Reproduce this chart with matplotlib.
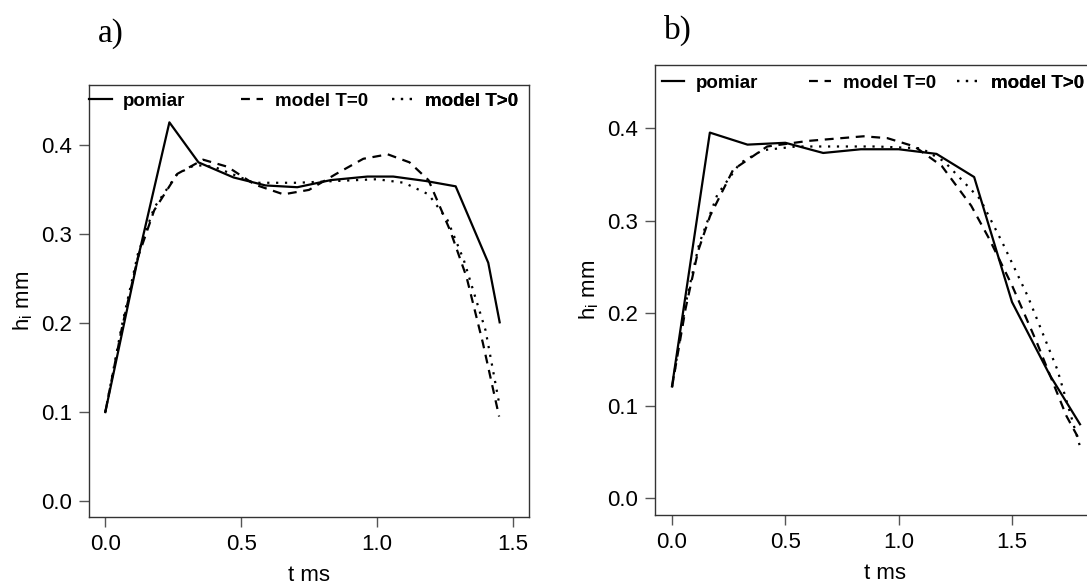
import matplotlib
matplotlib.use("Agg")
import matplotlib.pyplot as plt
from matplotlib.lines import Line2D

plt.rcParams['font.family'] = ['Liberation Sans', 'DejaVu Sans']

# panel a) data
a_t_meas = [0, 0.118, 0.236, 0.343, 0.472, 0.59, 0.707, 0.83, 0.965, 1.06, 1.18, 1.29, 1.41, 1.452]
a_h_meas = [0.100, 0.270, 0.426, 0.381, 0.364, 0.355, 0.353, 0.361, 0.365, 0.365, 0.360, 0.354, 0.268, 0.201]

a_t_m0 = [0, 0.06, 0.12, 0.18, 0.265, 0.36, 0.45, 0.55, 0.656, 0.75, 0.85, 0.95, 1.04, 1.12, 1.19, 1.27, 1.33, 1.39, 1.45]
a_h_m0 = [0.100, 0.193, 0.274, 0.327, 0.368, 0.384, 0.376, 0.356, 0.345, 0.350, 0.368, 0.385, 0.390, 0.381, 0.361, 0.304, 0.252, 0.178, 0.095]

a_t_m1 = [0, 0.06, 0.12, 0.18, 0.265, 0.33, 0.40, 0.547, 0.707, 0.85, 1.0, 1.1, 1.19, 1.26, 1.32, 1.40, 1.45]
a_h_m1 = [0.100, 0.196, 0.278, 0.330, 0.368, 0.378, 0.376, 0.358, 0.358, 0.360, 0.362, 0.358, 0.345, 0.316, 0.271, 0.192, 0.110]

# panel b) data
b_t_meas = [0, 0.167, 0.333, 0.5, 0.667, 0.833, 1.0, 1.167, 1.333, 1.5, 1.667, 1.8]
b_h_meas = [0.121, 0.395, 0.382, 0.384, 0.373, 0.377, 0.377, 0.372, 0.347, 0.212, 0.133, 0.080]

b_t_m0 = [0, 0.06, 0.115, 0.168, 0.27, 0.42, 0.6, 0.845, 0.95, 1.07, 1.19, 1.32, 1.40, 1.50, 1.61, 1.74, 1.80]
b_h_m0 = [0.120, 0.205, 0.267, 0.305, 0.355, 0.380, 0.386, 0.391, 0.389, 0.380, 0.359, 0.316, 0.280, 0.230, 0.168, 0.089, 0.062]

b_t_m1 = [0, 0.06, 0.12, 0.2, 0.3, 0.4, 0.55, 0.7, 0.9, 1.1, 1.2, 1.36, 1.46, 1.57, 1.70, 1.80]
b_h_m1 = [0.120, 0.210, 0.275, 0.328, 0.362, 0.376, 0.380, 0.380, 0.380, 0.378, 0.364, 0.323, 0.275, 0.218, 0.139, 0.056]

labels = ["pomiar", "model T=0", "model T>0"]
x_ticks = [0.0, 0.5, 1.0, 1.5]
y_ticks = [0.0, 0.1, 0.2, 0.3, 0.4]

styles = ['-', (0, (4, 3)), (0, (1, 3))]
lw = 1.6

fig = plt.figure(figsize=(10.87, 5.87), dpi=100)
ax_a = fig.add_axes([89/1087, 70/587, 440/1087, 432/587])
ax_b = fig.add_axes([655/1087, 72/587, 459/1087, 450/587])


def panel(ax, series, xlim, leg_x, leg_y):
    for (t, h), ls in zip(series, styles):
        ax.plot(t, h, color='black', linestyle=ls, linewidth=lw)
    ax.set_xlim(*xlim)
    ax.set_ylim(-0.018, 0.468)
    ax.set_xticks(x_ticks)
    ax.set_xticklabels(["%.1f" % v for v in x_ticks])
    ax.set_yticks(y_ticks)
    ax.set_yticklabels(["%.1f" % v for v in y_ticks])
    ax.tick_params(length=7, width=1, color='#555555', pad=5.5, labelsize=16)
    for s in ax.spines.values():
        s.set_color('#333333')
        s.set_linewidth(1.0)
    ax.set_xlabel("t ms", fontsize=16, labelpad=7)
    ax.set_ylabel("h$_\\mathregular{i}$ mm", fontsize=16, labelpad=4)
    # legend: one entry per column, evenly spaced like in R
    for lab, ls, lx in zip(labels, styles, leg_x):
        h = Line2D([], [], color='black', linestyle=ls, linewidth=lw)
        leg = ax.legend([h], [lab], loc='center left', bbox_to_anchor=(lx, leg_y),
                        frameon=False, borderpad=0, borderaxespad=0,
                        handlelength=1.2, handletextpad=0.6,
                        prop={'weight': 'bold', 'size': 13.5})
        ax.add_artist(leg)


panel(ax_a, [(a_t_meas, a_h_meas), (a_t_m0, a_h_m0), (a_t_m1, a_h_m1)],
      (-0.06, 1.56), [0.0, 0.345, 0.688], 0.963)
panel(ax_b, [(b_t_meas, b_h_meas), (b_t_m0, b_h_m0), (b_t_m1, b_h_m1)],
      (-0.075, 1.95), [0.015, 0.335, 0.658], 0.96)

fig.text(111/1087, 1 - 34/587, "a)", fontsize=24, family='Liberation Serif', ha='center', va='center')
fig.text(678/1087, 1 - 30/587, "b)", fontsize=24, family='Liberation Serif', ha='center', va='center')

fig.savefig("out.png", dpi=100)
